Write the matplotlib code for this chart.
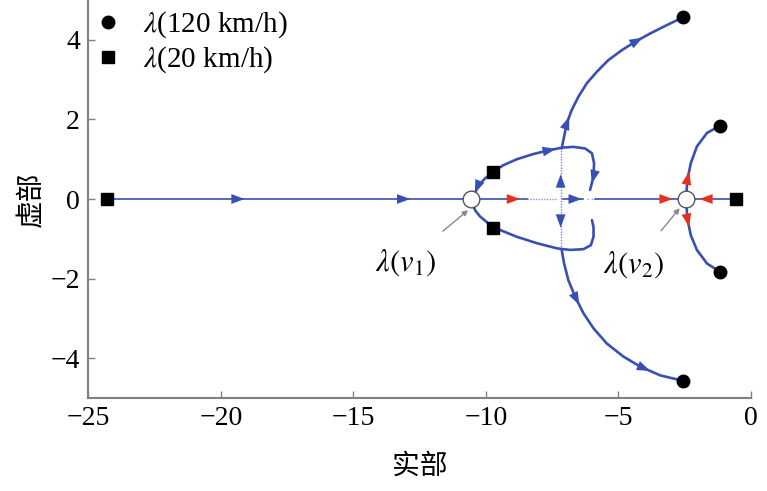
import matplotlib.pyplot as plt
import numpy as np

plt.rcParams['font.family'] = ['Liberation Serif', 'Noto Sans CJK SC']
plt.rcParams['mathtext.fontset'] = 'stix'

BLUE = '#3a4fb2'
RED = '#e3311d'

# end points of the loci
pts_120_x = [-2.55, -2.55, -1.17, -1.17]
pts_120_y = [4.57, -4.57, 1.84, -1.83]
pts_20_x = [-24.3, -9.74, -9.74, -0.56]
pts_20_y = [0.0, 0.67, -0.74, 0.0]
v_x = [-10.55, -2.45]
v_labels = [r'$\lambda(v_1)$', r'$\lambda(v_2)$']

# branches
arc_up_x = [-7.14, -7.05, -6.95, -6.76, -6.51, -6.19, -5.81, -5.38, -4.87, -4.37, -3.80, -3.17, -2.55]
arc_up_y = [1.27, 1.57, 1.90, 2.24, 2.57, 2.91, 3.20, 3.49, 3.74, 3.95, 4.16, 4.37, 4.57]
arc_dn_x = [-7.14, -7.05, -6.89, -6.63, -6.32, -5.94, -5.44, -4.81, -4.18, -3.43, -2.55]
arc_dn_y = [-1.28, -1.62, -2.04, -2.46, -2.87, -3.25, -3.63, -3.96, -4.21, -4.43, -4.57]

loop_up_x = [-10.55, -10.49, -10.34, -10.09, -9.78, -9.34, -8.83, -8.21, -7.58, -7.14, -6.70,
             -6.26, -6.00, -5.92, -5.94, -6.07]
loop_up_y = [0.0, 0.02, 0.27, 0.48, 0.66, 0.85, 1.00, 1.13, 1.23, 1.29, 1.31,
             1.27, 1.15, 0.90, 0.56, 0.23]
loop_dn_x = [-10.55, -10.41, -10.22, -9.91, -9.46, -8.83, -8.08, -7.32, -6.82, -6.32, -6.04,
             -5.94, -5.94, -6.00]
loop_dn_y = [0.0, -0.28, -0.44, -0.61, -0.78, -0.95, -1.11, -1.24, -1.28, -1.26, -1.16,
             -0.95, -0.70, -0.53]

right_up_x = [-2.45, -2.40, -2.27, -2.04, -1.66, -1.17]
right_up_y = [0.0, 0.48, 0.90, 1.32, 1.66, 1.84]
right_dn_x = [-2.45, -2.40, -2.27, -2.04, -1.66, -1.17]
right_dn_y = [0.0, -0.49, -0.91, -1.28, -1.62, -1.83]

vert_x = -7.18
vert_y = [-1.26, 0.0, 1.28]

fig = plt.figure(figsize=(7.67, 4.91), dpi=100)
ax = fig.add_axes([0.1151, 0.1894, 0.864, 0.8106])


def head(x0, y0, x1, y1, color):
    ax.annotate('', xy=(x1, y1), xytext=(x0, y0),
                arrowprops=dict(arrowstyle='-|>,head_length=0.6,head_width=0.22',
                                color=color, lw=0, mutation_scale=16,
                                shrinkA=0, shrinkB=0),
                zorder=4)


def head_on(xs, ys, i, color=BLUE):
    xm = (xs[i] + xs[i + 1]) / 2
    ym = (ys[i] + ys[i + 1]) / 2
    dx = xs[i + 1] - xs[i]
    dy = ys[i + 1] - ys[i]
    n = np.hypot(dx * 26.5, dy * 39.8) / 12
    head(xm - dx / n, ym - dy / n, xm, ym, color)


# real axis line: solid / dotted pieces
ax.plot([-24.3, -8.45], [0, 0], color=BLUE, lw=1.2, zorder=2)
ax.plot([-8.45, -7.3], [0, 0], color=BLUE, lw=1.0, ls=(0, (1, 1)), alpha=0.6, zorder=2)
ax.plot([-7.1, -6.35], [0, 0], color=BLUE, lw=1.2, zorder=2)
ax.plot([-6.2, -5.9], [0, 0], color=BLUE, lw=1.0, ls=(0, (1, 2)), alpha=0.6, zorder=2)
ax.plot([-5.9, -0.56], [0, 0], color=BLUE, lw=1.2, zorder=2)

# vertical dotted branch
ax.plot([vert_x] * 3, vert_y, color=BLUE, lw=1.0, ls=(0, (1, 1)), alpha=0.7, zorder=2)

for xs, ys in [(arc_up_x, arc_up_y), (arc_dn_x, arc_dn_y), (loop_up_x, loop_up_y),
               (loop_dn_x, loop_dn_y), (right_up_x, right_up_y), (right_dn_x, right_dn_y)]:
    ax.plot(xs, ys, color=BLUE, lw=1.9, zorder=3, solid_capstyle='round',
            solid_joinstyle='round')

# arrow heads
head_on(arc_up_x, arc_up_y, 2)
head_on(arc_up_x, arc_up_y, 9)
head_on(arc_dn_x, arc_dn_y, 3)
head_on(arc_dn_x, arc_dn_y, 8)
head_on(loop_up_x, loop_up_y, 8)
head_on(loop_up_x, loop_up_y, 14)
head_on(loop_up_x[::-1], loop_up_y[::-1], 13)
head_on(right_up_x, right_up_y, 1, RED)
head_on(right_dn_x, right_dn_y, 1, RED)
head(-19.6, 0, -19.1, 0, BLUE)
head(-13.35, 0, -12.85, 0, BLUE)
head(-9.2, 0, -8.71, 0, RED)
head(-6.9, 0, -6.38, 0, BLUE)
head(-3.45, 0, -2.95, 0, RED)
head(-1.45, 0, -1.95, 0, RED)
head(vert_x, 0.25, vert_x, 0.62, BLUE)
head(vert_x, -0.35, vert_x, -0.72, BLUE)

# markers
ax.plot(pts_120_x, pts_120_y, 'o', color='black', ms=9, ls='none', zorder=5,
        label=r'$\lambda$(120 km/h)')
ax.plot(pts_20_x, pts_20_y, 's', color='black', ms=8, ls='none', zorder=5,
        label=r'$\lambda$(20 km/h)')
ax.plot(v_x, [0, 0], 'o', mfc='white', mec='#555555', mew=1.0, ms=12, ls='none', zorder=5)

# annotations
ax.annotate(v_labels[0], xy=(-10.67, -0.28), xytext=(-13.05, -1.6), fontsize=22,
            ha='center', va='center',
            arrowprops=dict(arrowstyle='-|>', color='#888888', lw=1, mutation_scale=8,
                            shrinkA=15, shrinkB=0))
ax.annotate(v_labels[1], xy=(-2.69, -0.23), xytext=(-4.45, -1.66), fontsize=22,
            ha='center', va='center',
            arrowprops=dict(arrowstyle='-|>', color='#888888', lw=1, mutation_scale=8,
                            shrinkA=15, shrinkB=0))

ax.set_xlim(-25, 0)
ax.set_ylim(-5, 5)
ax.set_xticks([-25, -20, -15, -10, -5, 0])
ax.set_yticks([-4, -2, 0, 2, 4])
ax.tick_params(direction='in', length=5, width=1, color='#808080', labelsize=20, pad=6)
for s in ['top', 'right']:
    ax.spines[s].set_visible(False)
for s in ['left', 'bottom']:
    ax.spines[s].set_color('#808080')
    ax.spines[s].set_linewidth(1.5)

ax.set_xlabel('实部', fontsize=20, family='Noto Sans CJK SC', labelpad=14)
ax.set_ylabel('虚部', fontsize=20, family='Noto Sans CJK SC', labelpad=3)

ax.legend(loc='upper left', frameon=False, fontsize=21, handlelength=0.8,
          handletextpad=0.8, borderaxespad=0.0, labelspacing=0.15,
          bbox_to_anchor=(-0.005, 1.005))

fig.savefig('out.png', dpi=100)
